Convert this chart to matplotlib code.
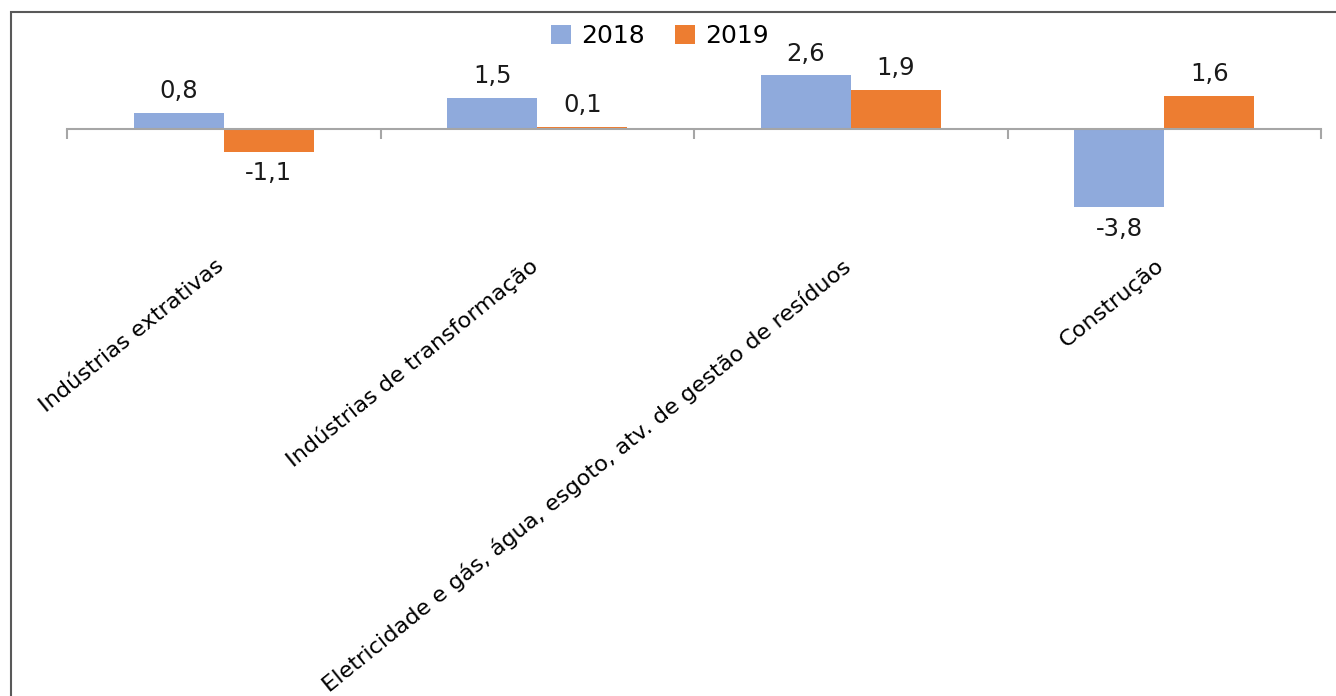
import numpy as np
import matplotlib.pyplot as plt
from matplotlib.patches import Rectangle
from matplotlib.transforms import ScaledTranslation

categories = ["Indústrias extrativas",
              "Indústrias de transformação",
              "Eletricidade e gás, água, esgoto, atv. de gestão de resíduos",
              "Construção"]
years = ["2018", "2019"]
vals_2018 = [0.8, 1.5, 2.6, -3.8]
vals_2019 = [-1.1, 0.1, 1.9, 1.6]

colors = ["#8FAADC", "#ED7D31"]

W, H = 1336, 696
fig = plt.figure(figsize=(W / 100, H / 100), dpi=100)

# plot area in pixels (zero line at y=129, ~20.6 px per unit)
px_left, px_right = 67, 1321
px_top, px_bot = 30, 250
zero_px, scale = 129, 20.6
ax = fig.add_axes([px_left / W, 1 - px_bot / H,
                   (px_right - px_left) / W, (px_bot - px_top) / H])

x = np.arange(len(categories))
bw = 90 / 313.5
b1 = ax.bar(x - bw / 2, vals_2018, bw, color=colors[0], label=years[0])
b2 = ax.bar(x + bw / 2, vals_2019, bw, color=colors[1], label=years[1])

fmt = lambda v: f"{v:.1f}".replace(".", ",")
for bars, vals in ((b1, vals_2018), (b2, vals_2019)):
    ax.bar_label(bars, labels=[fmt(v) for v in vals], padding=7,
                 fontsize=17.5, color="#1a1a1a")

ax.set_xlim(-0.5, len(categories) - 0.5)
ax.set_ylim(-(px_bot - zero_px) / scale, (zero_px - px_top) / scale)

for s in ("top", "right", "left"):
    ax.spines[s].set_visible(False)
ax.spines["bottom"].set_position(("data", 0))
ax.spines["bottom"].set_color("#A6A6A6")
ax.spines["bottom"].set_linewidth(1.5)
ax.set_yticks([])

ax.set_xticks(np.arange(len(categories) + 1) - 0.5)
ax.set_xticklabels([])
ax.tick_params(axis="x", which="major", direction="out", length=7.5,
               width=1.5, color="#A6A6A6")
ax.set_xticks(x, minor=True)
ax.set_xticklabels(categories, minor=True)
ax.tick_params(axis="x", which="minor", length=0, pad=91, labelsize=16.2)
shift = ScaledTranslation(-9 / 100, 0, fig.dpi_scale_trans)
for lab in ax.get_xticklabels(minor=True):
    lab.set_rotation(39)
    lab.set_ha("right")
    lab.set_va("top")
    lab.set_rotation_mode("anchor")
    lab.set_transform(lab.get_transform() + shift)

ax.legend(loc="center", bbox_to_anchor=(660 / W, 1 - 36 / H),
          bbox_transform=fig.transFigure, ncol=2, frameon=False,
          fontsize=18, handlelength=0.8, handleheight=0.8,
          handletextpad=0.4, columnspacing=1.2)

# outer frame of the original chart box
fig.patches.append(Rectangle((11 / W, -0.1), 2, 1.1 - 12 / H, fill=False,
                             edgecolor="#595959", lw=1.5,
                             transform=fig.transFigure))

fig.savefig("out.png", dpi=100)
